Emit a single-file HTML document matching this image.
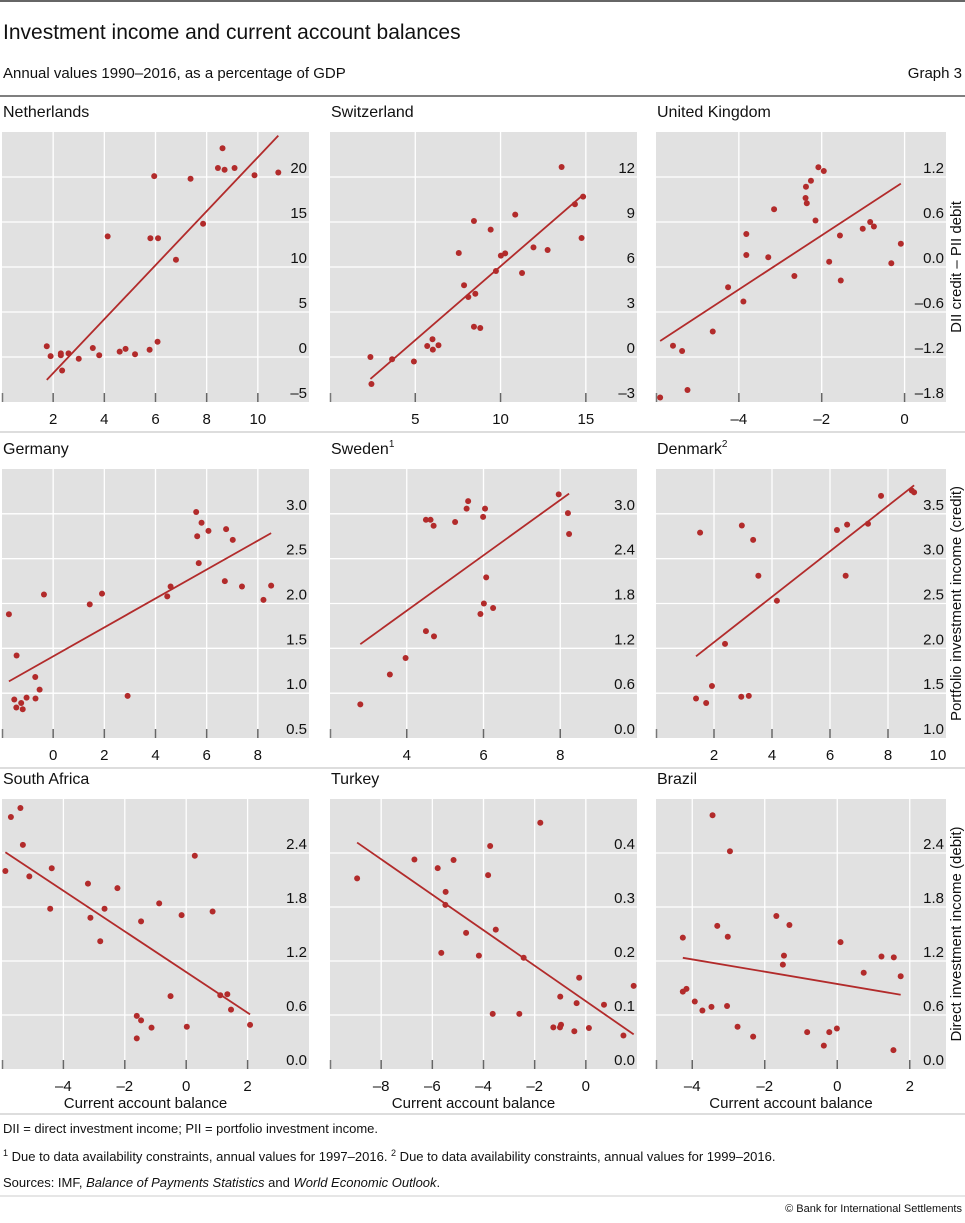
<!DOCTYPE html>
<html><head><meta charset="utf-8">
<style>
body{margin:0;background:#fff;font-family:"Liberation Sans",sans-serif;}
#wrap{position:relative;width:965px;height:1223px;overflow:hidden;}
svg text{font-family:"Liberation Sans",sans-serif;fill:#111;}
</style></head>
<body>
<div id="wrap">
<svg id="chart" width="965" height="1223" xmlns="http://www.w3.org/2000/svg">
<line x1="0" y1="1" x2="965" y2="1" stroke="#333" stroke-width="1.5"/>
<text x="3" y="39" font-size="21">Investment income and current account balances</text>
<text x="3" y="78" font-size="15">Annual values 1990–2016, as a percentage of GDP</text>
<text x="962" y="78" font-size="15" text-anchor="end">Graph 3</text>
<line x1="0" y1="96" x2="965" y2="96" stroke="#333" stroke-width="1.2"/>
<line x1="0" y1="432" x2="965" y2="432" stroke="#bbb" stroke-width="1"/>
<line x1="0" y1="768" x2="965" y2="768" stroke="#bbb" stroke-width="1"/>
<line x1="0" y1="1114" x2="965" y2="1114" stroke="#bbb" stroke-width="1"/>
<text x="3" y="1133" font-size="13">DII = direct investment income; PII = portfolio investment income.</text>
<text x="3" y="1161" font-size="13"><tspan font-size="9" dy="-5">1</tspan><tspan dy="5">  Due to data availability constraints, annual values for 1997–2016.   </tspan><tspan font-size="9" dy="-5">2</tspan><tspan dy="5">  Due to data availability constraints, annual values for 1999–2016.</tspan></text>
<text x="3" y="1187" font-size="13">Sources: IMF, <tspan font-style="italic">Balance of Payments Statistics</tspan> and <tspan font-style="italic">World Economic Outlook</tspan>.</text>
<line x1="0" y1="1196" x2="965" y2="1196" stroke="#ccc" stroke-width="1"/>
<text x="962" y="1212" font-size="11" text-anchor="end">© Bank for International Settlements</text>
</svg>
</div>
<script>
// Netherlands
const nlX=[1.75,1.9,2.3,2.3,2.35,2.6,3.0,3.55,3.8,4.13,4.6,4.83,5.2,5.77,5.8,5.95,6.08,6.1,6.8,7.37,7.86,8.44,8.62,8.7,9.09,9.87,10.8];
const nlY=[1.2,0.1,0.2,0.4,-1.5,0.4,-0.2,1.0,0.2,13.4,0.6,0.9,0.3,0.8,13.2,20.1,1.7,13.2,10.8,19.8,14.8,21.0,23.2,20.8,21.0,20.2,20.5];
// Switzerland
const chX=[2.37,2.43,3.64,4.92,5.7,6.01,6.03,6.36,7.55,7.86,8.11,8.44,8.44,8.52,8.81,9.42,9.73,10.02,10.27,10.86,11.26,11.93,12.76,13.58,14.36,14.75,14.84];
const chY=[0.0,-1.8,-0.15,-0.3,0.73,1.18,0.49,0.78,6.93,4.78,4.0,9.07,2.02,4.22,1.93,8.49,5.73,6.76,6.91,9.49,5.6,7.31,7.13,12.67,10.18,7.93,10.69];
// United Kingdom
const ukX=[-5.9,-5.59,-5.37,-5.24,-4.63,-4.26,-3.89,-3.82,-3.82,-3.29,-3.15,-2.66,-2.39,-2.36,-2.38,-2.26,-2.15,-2.08,-1.95,-1.82,-1.56,-1.54,-1.01,-0.83,-0.74,-0.32,-0.09];
const ukY=[-1.74,-1.05,-1.12,-1.64,-0.86,-0.27,-0.46,0.44,0.16,0.13,0.77,-0.12,0.92,0.85,1.07,1.15,0.62,1.33,1.28,0.07,0.42,-0.18,0.51,0.6,0.54,0.05,0.31];
// Germany
const deX=[-1.73,-1.52,-1.44,-1.43,-1.25,-1.19,-1.04,-0.70,-0.69,-0.53,-0.36,1.43,1.91,2.91,4.46,4.59,5.59,5.63,5.69,5.80,6.07,6.71,6.76,7.02,7.38,8.22,8.52];
const deY=[1.88,0.93,0.84,1.42,0.89,0.82,0.95,1.18,0.94,1.04,2.10,1.99,2.11,0.97,2.08,2.19,3.02,2.75,2.45,2.90,2.81,2.25,2.83,2.71,2.19,2.04,2.20];
// Sweden
const seX=[2.79,3.56,3.97,4.50,4.71,4.50,4.62,4.70,5.26,5.56,5.60,5.99,6.04,5.92,6.01,6.07,6.25,7.96,8.20,8.23];
const seY=[0.45,0.85,1.07,1.43,1.36,2.92,2.92,2.84,2.89,3.07,3.17,2.96,3.07,1.66,1.80,2.15,1.74,3.26,3.01,2.73];
// Denmark
const dkX=[1.38,1.52,1.73,1.93,2.38,2.94,2.96,3.20,3.35,3.53,4.17,6.24,6.59,6.54,7.31,7.76,8.82,8.90];
const dkY=[1.44,3.29,1.39,1.58,2.05,1.46,3.37,1.47,3.21,2.81,2.53,3.32,3.38,2.81,3.39,3.70,3.76,3.74];
// South Africa
const zaX=[-5.89,-5.71,-5.40,-5.32,-5.11,-4.43,-4.38,-3.20,-3.12,-2.80,-2.66,-2.24,-1.61,-1.61,-1.47,-1.47,-1.13,-0.88,-0.51,-0.15,0.02,0.28,0.86,1.11,1.34,1.46,2.08];
const zaY=[2.2,2.8,2.9,2.49,2.14,1.78,2.23,2.06,1.68,1.42,1.78,2.01,0.59,0.34,0.54,1.64,0.46,1.84,0.81,1.71,0.47,2.37,1.75,0.82,0.83,0.66,0.49];
// Turkey
const trX=[-8.94,-6.70,-5.79,-5.65,-5.49,-5.48,-5.17,-4.68,-4.18,-3.82,-3.74,-3.64,-3.52,-2.60,-2.43,-1.78,-1.27,-1.01,-1.00,-0.97,-0.45,-0.36,-0.26,0.12,0.71,1.47,1.87];
const trY=[0.353,0.388,0.372,0.215,0.304,0.328,0.387,0.252,0.210,0.359,0.413,0.102,0.258,0.102,0.206,0.456,0.077,0.077,0.134,0.082,0.070,0.122,0.169,0.076,0.119,0.062,0.154];
// Brazil
const brX=[-3.44,-2.96,-4.26,-3.31,-3.02,-4.26,-4.16,-3.93,-3.72,-3.47,-3.04,-2.75,-2.32,-1.68,-1.32,-1.47,-1.50,-0.83,-0.37,-0.22,-0.01,0.09,0.73,1.22,1.56,1.55,1.75];
const brY=[2.82,2.42,1.46,1.59,1.47,0.86,0.89,0.75,0.65,0.69,0.70,0.47,0.36,1.70,1.60,1.26,1.16,0.41,0.26,0.41,0.45,1.41,1.07,1.25,1.24,0.21,1.03];

// tick values and labels
const nlXT=[2,4,6,8,10], nlYT=[-5,0,5,10,15,20], nlYL=["–5","0","5","10","15","20"];
const chXT=[5,10,15], chYT=[-3,0,3,6,9,12], chYL=["–3","0","3","6","9","12"];
const ukXT=[-4,-2,0], ukXL=["–4","–2","0"], ukYT=[-1.8,-1.2,-0.6,0,0.6,1.2], ukYL=["–1.8","–1.2","–0.6","0.0","0.6","1.2"];
const deXT=[0,2,4,6,8], deYT=[0.5,1,1.5,2,2.5,3], deYL=["0.5","1.0","1.5","2.0","2.5","3.0"];
const seXT=[4,6,8], seYT=[0,0.6,1.2,1.8,2.4,3.0], seYL=["0.0","0.6","1.2","1.8","2.4","3.0"];
const dkXT=[2,4,6,8,10], dkYT=[1,1.5,2,2.5,3,3.5], dkYL=["1.0","1.5","2.0","2.5","3.0","3.5"];
const zaXT=[-4,-2,0,2], zaXL=["–4","–2","0","2"], zaYT=[0,0.6,1.2,1.8,2.4], zaYL=["0.0","0.6","1.2","1.8","2.4"];
const trXT=[-8,-6,-4,-2,0], trXL=["–8","–6","–4","–2","0"], trYT=[0,0.1,0.2,0.3,0.4], trYL=["0.0","0.1","0.2","0.3","0.4"];
const brXT=[-4,-2,0,2], brXL=["–4","–2","0","2"], brYT=[0,0.6,1.2,1.8,2.4], brYL=["0.0","0.6","1.2","1.8","2.4"];

const NS="http://www.w3.org/2000/svg";
const svg=document.getElementById('chart');
function mk(tag,attrs,parent){const e=document.createElementNS(NS,tag);for(const k in attrs)e.setAttribute(k,attrs[k]);(parent||svg).appendChild(e);return e;}

const cols=[[2,309],[330,637],[656,946]];
const rows=[[132,402],[469,738],[799,1069]];
const panels=[
 {id:'netherlands',title:'Netherlands',sup:'',c:0,r:0,xd:[0,12],yd:[-5,25],X:nlX,Y:nlY,xt:nlXT,xl:nlXT.map(String),yt:nlYT,yl:nlYL},
 {id:'switzerland',title:'Switzerland',sup:'',c:1,r:0,xd:[0,18],yd:[-3,15],X:chX,Y:chY,xt:chXT,xl:chXT.map(String),yt:chYT,yl:chYL},
 {id:'united-kingdom',title:'United Kingdom',sup:'',c:2,r:0,xd:[-6,1],yd:[-1.8,1.8],X:ukX,Y:ukY,xt:ukXT,xl:ukXL,yt:ukYT,yl:ukYL,ytitle:'DII credit – PII debit'},
 {id:'germany',title:'Germany',sup:'',c:0,r:1,xd:[-2,10],yd:[0.5,3.5],X:deX,Y:deY,xt:deXT,xl:deXT.map(String),yt:deYT,yl:deYL},
 {id:'sweden',title:'Sweden',sup:'1',c:1,r:1,xd:[2,10],yd:[0,3.6],X:seX,Y:seY,xt:seXT,xl:seXT.map(String),yt:seYT,yl:seYL},
 {id:'denmark',title:'Denmark',sup:'2',c:2,r:1,xd:[0,10],yd:[1,4],X:dkX,Y:dkY,xt:dkXT,xl:dkXT.map(String),yt:dkYT,yl:dkYL,ytitle:'Portfolio investment income (credit)'},
 {id:'south-africa',title:'South Africa',sup:'',c:0,r:2,xd:[-6,4],yd:[0,3],X:zaX,Y:zaY,xt:zaXT,xl:zaXL,yt:zaYT,yl:zaYL,xtitle:true},
 {id:'turkey',title:'Turkey',sup:'',c:1,r:2,xd:[-10,2],yd:[0,0.5],X:trX,Y:trY,xt:trXT,xl:trXL,yt:trYT,yl:trYL,xtitle:true},
 {id:'brazil',title:'Brazil',sup:'',c:2,r:2,xd:[-5,3],yd:[0,3],X:brX,Y:brY,xt:brXT,xl:brXL,yt:brYT,yl:brYL,xtitle:true,ytitle:'Direct investment income (debit)'}
];

panels.forEach(p=>{
 const [x0,x1]=cols[p.c],[y0,y1]=rows[p.r];
 const sx=v=>x0+(v-p.xd[0])/(p.xd[1]-p.xd[0])*(x1-x0);
 const sy=v=>y1-(v-p.yd[0])/(p.yd[1]-p.yd[0])*(y1-y0);
 const g=mk('g',{});
 
 
 const t=mk('text',{x:x0+1,y:y0-15,'font-size':16},g);
 t.textContent=p.title;
 
 
 if(p.sup){const s=mk('tspan',{'font-size':10,dy:-7},t);s.textContent=p.sup;}
 const bg=mk('rect',{x:x0,y:y0,width:x1-x0,height:y1-y0,fill:'#e1e1e1'},g);
 
 
 p.yt.forEach((v,i)=>{
  const y=sy(v);
  if(v!==p.yd[0]){const l=mk('line',{x1:x0,x2:x1,y1:y,y2:y,stroke:'#fff','stroke-width':1.3},g);
   
   }
  const tx=mk('text',{x:x1-2,y:y-4,'font-size':15,'text-anchor':'end'},g);
  tx.textContent=p.yl[i];
  
  
 });
 const tk0=mk('line',{x1:x0+0.5,x2:x0+0.5,y1:y1-9,y2:y1,stroke:'#777','stroke-width':1.5},g);
 
 
 p.xt.forEach((v,i)=>{
  const x=sx(v);
  if(x<x1-2){
   const l=mk('line',{x1:x,x2:x,y1:y0,y2:y1,stroke:'#fff','stroke-width':1.3},g);
   
   
   const tk=mk('line',{x1:x,x2:x,y1:y1-9,y2:y1,stroke:'#666','stroke-width':1.5},g);
   
   
  }
  const tx=mk('text',{x:Math.min(x,x1-8),y:y1+22,'font-size':15,'text-anchor':'middle'},g);
  tx.textContent=p.xl[i];
  
  
 });
 // regression line
 const n=p.X.length;let mx=0,my=0;for(let i=0;i<n;i++){mx+=p.X[i];my+=p.Y[i];}mx/=n;my/=n;
 let sxy=0,sxx=0;for(let i=0;i<n;i++){sxy+=(p.X[i]-mx)*(p.Y[i]-my);sxx+=(p.X[i]-mx)**2;}
 const b=sxy/sxx,a=my-b*mx;const xa=Math.min(...p.X),xb=Math.max(...p.X);
 const tl=mk('line',{x1:sx(xa),y1:sy(a+b*xa),x2:sx(xb),y2:sy(a+b*xb),stroke:'#b22b2b','stroke-width':1.8},g);
 
 
 for(let i=0;i<n;i++){
  const c=mk('circle',{cx:sx(p.X[i]),cy:sy(p.Y[i]),r:3,fill:'#b22b2b'},g);
  
  
 }
 if(p.xtitle){
  const xt=mk('text',{x:(x0+x1)/2-10,y:y1+39,'font-size':15,'text-anchor':'middle'},g);
  xt.textContent='Current account balance';
  
  
 }
 if(p.ytitle){
  const cy=(y0+y1)/2;
  const yt=mk('text',{x:0,y:0,'font-size':15,'text-anchor':'middle',transform:'translate(961,'+cy+') rotate(-90)'},g);
  yt.textContent=p.ytitle;
  
  
 }
});
</script>
</body></html>
